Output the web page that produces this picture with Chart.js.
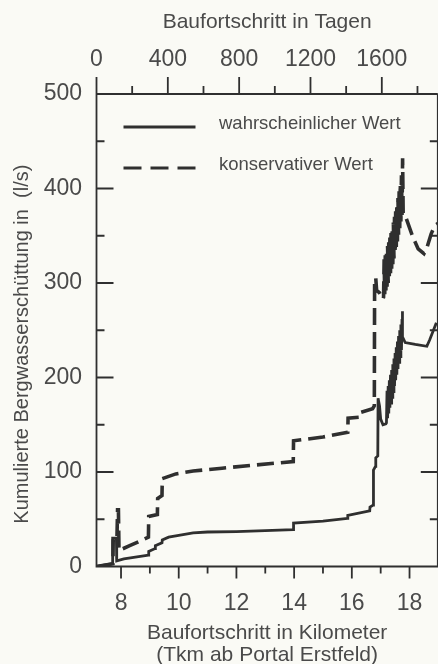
<!DOCTYPE html>
<html>
<head>
<meta charset="utf-8">
<script src="https://cdn.jsdelivr.net/npm/chart.js@4.4.0/dist/chart.umd.min.js"></script>
<style>
  html, body { margin: 0; padding: 0; background: #fafaf5; overflow: hidden; }
  #wrap { width: 446px; height: 664px; }
</style>
</head>
<body>
<div id="wrap"><canvas id="chart" width="446" height="664"></canvas></div>
<script>
// Baufortschritt (km) vs. kumulierte Bergwasserschüttung (l/s)
const solidKm = [7.15, 7.70, 7.71, 7.84, 7.85, 8.10, 8.95, 8.96, 9.18, 9.19, 9.42, 9.43, 9.65, 10.0, 10.5, 11.0, 12.0, 13.0, 13.97, 13.98,
  15.0, 15.85, 15.86, 16.62, 16.63, 16.74, 16.75, 16.82, 16.83, 16.90, 16.91, 16.96, 17.0, 17.08, 17.18,
  17.20, 17.22, 17.24, 17.26, 17.28, 17.30, 17.32, 17.34, 17.36, 17.38, 17.40, 17.42, 17.44, 17.46, 17.48, 17.50,
  17.52, 17.54, 17.56, 17.58, 17.60, 17.62, 17.64, 17.66, 17.68, 17.70, 17.72, 17.74, 17.75, 17.76,
  17.85, 18.2, 18.6, 18.7, 18.93];
const solidVal = [0, 3, 30, 30, 6, 8, 12, 16, 19, 22, 25, 28, 31, 33, 35.5, 36.5, 37, 38, 39, 46,
  48, 51, 54, 59, 63, 65, 102, 106, 115, 117, 178, 170, 156, 150, 151,
  152, 186, 157, 191, 162, 197, 168, 203, 173, 208, 179, 214, 185, 220, 191, 226,
  197, 232, 203, 238, 209, 244, 216, 250, 222, 256, 229, 262, 270, 243,
  237, 235, 233, 240, 258];

const dashKm = [7.15, 7.72, 7.73, 7.86, 7.88, 7.91, 7.93, 8.30, 8.95, 8.96, 9.26, 9.27, 9.42, 9.43, 9.9, 10.5, 11.5, 12.5, 13.97, 13.98,
  15.0, 15.86, 15.87, 16.28, 16.29, 16.72, 16.78, 16.79, 16.83, 16.86, 16.95, 17.08,
  17.10, 17.12, 17.14, 17.16, 17.18, 17.20, 17.22, 17.24, 17.26, 17.28, 17.30, 17.32, 17.34, 17.36, 17.38, 17.40,
  17.42, 17.44, 17.46, 17.48, 17.50, 17.52, 17.54, 17.56, 17.58, 17.60, 17.62, 17.64, 17.66, 17.68, 17.70, 17.72,
  17.74, 17.76, 17.78, 17.89, 18.11, 18.3, 18.5, 18.6, 18.75, 18.88, 18.98];
const dashVal = [0, 3, 32, 32, 60, 60, 17, 22, 31, 53, 55, 72, 75, 93, 98, 101, 104, 107, 111, 133,
  137, 142, 157, 158, 163, 167, 170, 305, 305, 292, 290, 283,
  285, 325, 288, 330, 292, 334, 296, 339, 300, 343, 305, 348, 310, 353, 315, 358,
  320, 364, 326, 370, 332, 376, 338, 383, 344, 390, 351, 397, 358, 405, 365, 414,
  372, 432, 372, 368, 349, 336, 331, 337, 352, 361, 363];

const seriesLabels = ['wahrscheinlicher Wert', 'konservativer Wert'];
const kmTickLabels = [8, 10, 12, 14, 16, 18];
const dayTickLabels = [0, 400, 800, 1200, 1600];
const yTickLabels = [0, 100, 200, 300, 400, 500];

const textColor = '#4a4a4a';
const lineColor = '#2f2f2f';
const family = '"Liberation Sans", Arial, Helvetica, sans-serif';

function toPoints(xs, ys) {
  return xs.map((x, i) => ({ x: x, y: ys[i] }));
}

// frame, inner ticks and legend
const framePlugin = {
  id: 'frame',
  beforeDraw(chart) {
    const c = chart.ctx;
    c.save();
    c.fillStyle = '#fafaf5';
    c.fillRect(0, 0, chart.width, chart.height);
    c.restore();
  },
  afterDraw(chart) {
    const c = chart.ctx;
    const { left, right, top, bottom } = chart.chartArea;
    const y = chart.scales.y;
    const x = chart.scales.x;
    const xTop = chart.scales.xTop;
    c.save();
    c.strokeStyle = lineColor;
    c.lineWidth = 1.8;
    c.beginPath();
    c.moveTo(right, top); c.lineTo(left, top); c.lineTo(left, bottom); c.lineTo(right, bottom); c.lineTo(right, top);
    y.ticks.forEach(t => {
      const py = y.getPixelForValue(t.value);
      const len = yTickLabels.includes(t.value) ? 17 : 8;
      c.moveTo(left, py); c.lineTo(left + len, py);
      c.moveTo(right, py); c.lineTo(right - len, py);
    });
    x.ticks.forEach(t => {
      const px = x.getPixelForValue(t.value);
      const len = kmTickLabels.includes(t.value) ? 12 : 7;
      c.moveTo(px, bottom); c.lineTo(px, bottom + len);
    });
    xTop.ticks.forEach(t => {
      const px = xTop.getPixelForValue(t.value);
      const len = dayTickLabels.includes(t.value) ? 17 : 8;
      c.moveTo(px, top); c.lineTo(px, top - len);
    });
    c.stroke();

    // legend
    chart.data.datasets.forEach((ds, i) => {
      const ly = top + 33 + i * 41;
      c.beginPath();
      c.lineWidth = 3;
      c.setLineDash(i === 0 ? [] : [18, 9]);
      c.moveTo(left + 27, ly); c.lineTo(left + 99, ly);
      c.stroke();
      c.setLineDash([]);
      c.fillStyle = textColor;
      c.font = '18.5px ' + family;
      c.textBaseline = 'middle';
      c.fillText(ds.label, left + 122.5, ly - 3);
    });
    c.restore();
  }
};

new Chart(document.getElementById('chart'), {
  type: 'line',
  data: {
    datasets: [
      {
        label: seriesLabels[0],
        data: toPoints(solidKm, solidVal),
        borderColor: lineColor,
        borderWidth: 2.8,
        pointRadius: 0,
        tension: 0
      },
      {
        label: seriesLabels[1],
        data: toPoints(dashKm, dashVal),
        borderColor: lineColor,
        borderWidth: 3.6,
        borderDash: [17, 7],
        pointRadius: 0,
        tension: 0
      }
    ]
  },
  options: {
    responsive: false,
    animation: false,
    devicePixelRatio: 1,
    layout: { padding: { left: 0, right: 7.5, top: 0, bottom: 0 } },
    plugins: { legend: { display: false }, tooltip: { enabled: false } },
    scales: {
      x: {
        type: 'linear', position: 'bottom', min: 7.15, max: 18.98,
        grid: { display: false, drawTicks: false }, border: { display: false },
        ticks: {
          stepSize: 1, includeBounds: false, autoSkip: false, maxRotation: 0, padding: 23,
          color: textColor, font: { family: family, size: 23 },
          callback: v => kmTickLabels.includes(v) ? String(v) : ''
        },
        title: {
          display: true, text: ['Baufortschritt in Kilometer', '(Tkm ab Portal Erstfeld)'],
          color: textColor, font: { family: family, size: 21, lineHeight: 22 / 21 }, padding: { top: 0, bottom: -2 }
        },
        afterFit: s => { s.height = 97.5; }
      },
      xTop: {
        type: 'linear', position: 'top', min: 0, max: 1914,
        grid: { display: false, drawTicks: false }, border: { display: false },
        ticks: {
          stepSize: 200, includeBounds: false, autoSkip: false, maxRotation: 0, padding: 21,
          color: textColor, font: { family: family, size: 23 },
          callback: v => dayTickLabels.includes(v) ? String(v) : ''
        },
        title: {
          display: true, text: 'Baufortschritt in Tagen',
          color: textColor, font: { family: family, size: 21 }, padding: { top: 9.4, bottom: 0 }
        },
        afterFit: s => { s.height = 94; }
      },
      y: {
        min: 0, max: 500,
        grid: { display: false, drawTicks: false }, border: { display: false },
        ticks: {
          stepSize: 50, autoSkip: false, padding: 14.5,
          color: textColor, font: { family: family, size: 23 },
          callback: v => yTickLabels.includes(v) ? String(v) : ''
        },
        title: {
          display: true, text: 'Kumulierte Bergwasserschüttung in  (l/s)     ',
          color: textColor, font: { family: family, size: 20 }, padding: { top: 10, bottom: 0 }
        },
        afterFit: s => { s.width = 96.5; }
      }
    }
  },
  plugins: [framePlugin]
});
</script>
</body>
</html>
